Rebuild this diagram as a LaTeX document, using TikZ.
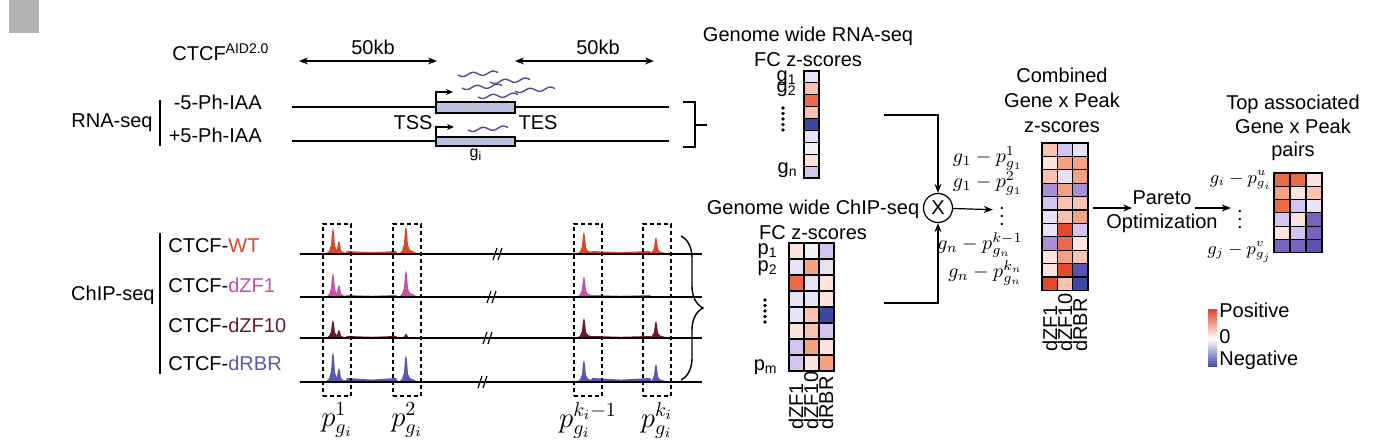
\documentclass[tikz,border=0pt]{standalone}
\usepackage[no-math]{fontspec}
\setmainfont{Liberation Sans}
\usepackage{amsmath,amssymb}
\usepackage{tikz}
\usetikzlibrary{arrows.meta,positioning,calc,decorations.pathreplacing}

\definecolor{wtred}{RGB}{218,72,44}
\definecolor{zfonepink}{RGB}{198,80,170}
\definecolor{zftenred}{RGB}{106,26,50}
\definecolor{rbrblue}{RGB}{90,88,176}
\definecolor{genefill}{RGB}{186,192,224}
\definecolor{waveblue}{RGB}{86,74,150}
\definecolor{panelgrey}{RGB}{178,178,178}
% heatmap palette
\definecolor{hmR}{HTML}{E04A2C}
\definecolor{hmO}{HTML}{EC6A48}
\definecolor{hmS}{HTML}{F4A082}
\definecolor{hmL}{HTML}{F8C2B0}
\definecolor{hmP}{HTML}{FCE4DC}
\definecolor{hmW}{HTML}{F2F0F2}
\definecolor{hmV}{HTML}{E8E2F4}
\definecolor{hmU}{HTML}{D2C4EC}
\definecolor{hmM}{HTML}{A890D8}
\definecolor{hmD}{HTML}{7A62C0}
\definecolor{hmN}{HTML}{5A54B0}
\definecolor{hmB}{HTML}{3C48A4}

\tikzset{
  lbl/.style={inner sep=0pt, font=\fontsize{10}{12}\selectfont},
  headline/.style={lbl, align=center, font=\fontsize{10}{12.5}\selectfont},
  mathlbl/.style={inner sep=0pt, font=\fontsize{14}{16}\selectfont},
  cell/.style={draw=black, line width=0.6pt},
  track/.style={line width=0.7pt},
  peakbox/.style={draw, dash pattern=on 2pt off 1.5pt, line width=0.7pt, inner sep=0pt},
  flow/.style={-{Stealth[length=4.5pt,width=3.5pt]}, line width=0.6pt},
  kbspan/.style={{Stealth[length=4.5pt,width=3.5pt]}-{Stealth[length=4.5pt,width=3.5pt]}, line width=0.6pt},
}

% x, y, cell width, cell height, rows of colour letters
\newcommand{\heatmap}[5]{%
  \foreach \hmrow [count=\hr from 0] in {#5} {
    \foreach \hmc [count=\hk from 0] in \hmrow {
      \filldraw[cell, fill=hm\hmc] ({#1+\hk*#3},{#2+\hr*#4}) rectangle ++(#3,#4);
    }
  }
}
% x, baseline, height, colour
\newcommand{\chippeak}[4]{%
  \fill[#4] ({#1-7},{#2}) -- ({#1-4},{#2-0.12*#3}) -- ({#1-2},{#2-0.35*#3}) -- ({#1-1},{#2-0.85*#3})
    -- ({#1},{#2-#3}) -- ({#1+1},{#2-0.8*#3}) -- ({#1+2},{#2-0.3*#3}) -- ({#1+4},{#2-0.15*#3})
    -- ({#1+8},{#2-0.08*#3}) -- ({#1+12},{#2}) -- cycle;
}
% x1, x2, baseline, height, colour
\newcommand{\chipnoise}[5]{%
  \fill[#5] ({#1},{#3}) -- ({#1+2},{#3-#4}) -- ({0.5*(#1+#2)},{#3-0.6*#4}) -- ({#2-2},{#3-#4}) -- ({#2},{#3}) -- cycle;
}
% x, y of a transcript squiggle
\newcommand{\transcript}[2]{%
  \draw[waveblue, line width=0.7pt] plot[domain=0:40, samples=40, smooth] ({#1+\x},{#2-0.06*\x+1.8*sin(18*\x)});
}

\begin{document}
\begin{tikzpicture}[x=0.5pt, y=-0.5pt]
\useasboundingbox (0,0) rectangle (1394,448);
\fill[panelgrey] (9,0) rectangle (39,33);

% RNA-seq tracks
\node[lbl, anchor=west] (aid) at (172,52) {CTCF\textsuperscript{AID2.0}};
\coordinate (kbaL) at (299,61); \coordinate (kbaR) at (437,61);
\coordinate (kbbL) at (515,61); \coordinate (kbbR) at (654,61);
\draw[kbspan] (kbaL) -- (kbaR);
\draw[kbspan] (kbbL) -- (kbbR);
\node[lbl] (kba) at (373,47) {50kb};
\node[lbl] (kbb) at (598,47) {50kb};

\node[lbl, anchor=east] (minus) at (262,102) {-5-Ph-IAA};
\node[lbl, anchor=east] (plus) at (262,135) {+5-Ph-IAA};
\node[lbl, anchor=east] (rnaseq) at (153,123) {RNA-seq};
\draw[line width=0.7pt] (160,100) -- (160,146);

\draw[track] (292,107) -- (669,107);
\draw[track] (292,141) -- (669,141);
\filldraw[fill=genefill, line width=0.6pt] (436,102) rectangle (515,113);
\filldraw[fill=genefill, line width=0.6pt] (436,137) rectangle (515,146);
\draw[flow, -{Stealth[length=3.5pt,width=3pt]}] (436,102) -- (436,92) -- (453,92);
\draw[flow, -{Stealth[length=3.5pt,width=3pt]}] (436,137) -- (436,127) -- (454,127);
\node[lbl] (tss) at (413,123) {TSS};
\node[lbl] (tes) at (538,123) {TES};
\node[lbl, font=\fontsize{8}{9}\selectfont] (gene) at (476,155) {g\textsubscript{i}};
\transcript{458}{75}
\transcript{490}{82}
\transcript{462}{88}
\transcript{515}{91}
\transcript{478}{97}
\transcript{468}{130}
\draw[line width=0.7pt] (683,102) -- (695,102) -- (695,147) -- (683,147) (695,125) -- (707,125);

% ChIP-seq tracks
\node[lbl, anchor=east] (chipseq) at (155,295) {ChIP-seq};
\draw[line width=0.7pt] (160,233) -- (160,374);
\foreach \ty/\tc/\tname/\ly/\tb/\pka/\pkb/\pkc/\pkd/\pke/\pkn [count=\ti] in
  {254/wtred/WT/246/498/26/13/28/22/17/3,
   297/zfonepink/dZF1/285/492/24/12/27/21/0/2,
   338/zftenred/dZF10/325/488/18/8/4/20/17/2,
   382/rbrblue/dRBR/363/483/30/14/27/22/18/4} {
  \node[lbl, anchor=west] (trk\ti) at (168,\ly) {CTCF-\textcolor{\tc}{\tname}};
  \chipnoise{345}{398}{\ty}{\pkn}{\tc}
  \chipnoise{590}{652}{\ty}{\pkn}{\tc}
  \chippeak{333}{\ty}{\pka}{\tc}
  \chippeak{339}{\ty}{\pkb}{\tc}
  \chippeak{406}{\ty}{\pkc}{\tc}
  \chippeak{584}{\ty}{\pkd}{\tc}
  \chippeak{656}{\ty}{\pke}{\tc}
  \draw[track] (300,\ty) -- (702,\ty);
  \draw[line width=0.6pt] ({\tb-5},{\ty+6}) -- ({\tb-1},{\ty-6}) ({\tb},{\ty+6}) -- ({\tb+4},{\ty-6});
}
\foreach \bx [count=\bi] in {337,407,588,657}
  \node[peakbox, minimum width=14pt, minimum height=86pt] (pk\bi) at (\bx,310) {};
\node[mathlbl, below=3pt of pk1] (pl1) {$p^{1}_{g_i}$};
\node[mathlbl, below=3pt of pk2] (pl2) {$p^{2}_{g_i}$};
\node[mathlbl, below=3pt of pk3] (pl3) {$p^{k_i-1}_{g_i}$};
\node[mathlbl, below=3pt of pk4] (pl4) {$p^{k_i}_{g_i}$};
\draw[decorate, decoration={brace, amplitude=11pt}, line width=0.7pt] (681,236) -- (681,380);

% genome wide RNA-seq z-scores
\node[headline] (rnatitle) at (808,47) {Genome wide RNA-seq\\FC z-scores};
\heatmap{804}{71}{15}{11.9}{{V},{L},{O},{L},{B},{V},{W},{P},{U}}
\node[lbl, anchor=east] (g1) at (797,78) {g\textsubscript{1}};
\node[lbl, anchor=east] (g2) at (797,89) {g\textsubscript{2}};
\node[lbl, anchor=east] (gn) at (798,170) {g\textsubscript{n}};
\foreach \dy in {108,113.5,...,130} \fill (783,\dy) circle (0.9pt);

% genome wide ChIP-seq z-scores
\node[headline] (chiptitle) at (813,219.5) {Genome wide ChIP-seq\\FC z-scores};
\heatmap{789}{243}{15}{16}{{P,W,U},{V,S,V},{O,V,P},{V,V,P},{V,L,B},{P,L,U},{U,S,P},{U,P,S}}
\node[lbl, anchor=east] (p1) at (778,251) {p\textsubscript{1}};
\node[lbl, anchor=east] (p2) at (778,268) {p\textsubscript{2}};
\node[lbl, anchor=east] (pm) at (778,367) {p\textsubscript{m}};
\foreach \dy in {300,305.5,...,323} \fill (765,\dy) circle (0.9pt);
\foreach \cx/\cn in {796/dZF1,811/dZF10,826/dRBR}
  \node[lbl, rotate=90, anchor=west] at (\cx,430) {\cn};

% combine
\node[draw, circle, minimum size=14.5pt, inner sep=0pt, line width=0.6pt] (mult) at (938,208) {X};
\coordinate (rnaout) at (884,115);
\coordinate (chipout) at (884,303);
\draw[flow] (rnaout) -| (mult);
\draw[flow] (chipout) -| (mult);
\node[lbl] (combdots) at (1002,210) {$\vdots$};
\draw[flow, shorten >=3pt] (mult) -- (combdots);

\node[headline] (combtitle) at (1062,100) {Combined\\Gene x Peak\\z-scores};
\heatmap{1042}{143}{15.3}{13.4}{{L,U,V},{P,S,S},{L,V,S},{M,S,M},{U,L,L},{V,L,S},{V,R,U},{M,O,P},{P,S,L},{P,R,N},{R,L,B}}
\node[lbl, anchor=east] (c1) at (1023,158) {$g_1 - p^{1}_{g_1}$};
\node[lbl, anchor=east] (c2) at (1023,183) {$g_1 - p^{2}_{g_1}$};
\node[lbl, anchor=east] (c3) at (1023,245) {$g_n - p^{k-1}_{g_n}$};
\node[lbl, anchor=east] (c4) at (1023,273) {$g_n - p^{k_n}_{g_n}$};
\foreach \cx/\cn in {1050/dZF1,1065/dZF10,1080/dRBR}
  \node[lbl, rotate=90, anchor=west] at (\cx,352) {\cn};

% pareto
\node[lbl] (pareto) at (1162,198) {Pareto};
\node[lbl] (optim) at (1162,223) {Optimization};
\coordinate (combout) at (1093,208);
\draw[flow] (combout) -- (combout -| pareto.west);
\node[lbl] (topdots) at (1240,213) {$\vdots$};
\draw[flow, shorten <=1.5pt, shorten >=3pt] (combout -| pareto.east) -- (combout -| topdots.west);

\node[headline, font=\fontsize{10}{11.75}\selectfont] (toptitle) at (1293,128) {Top associated\\Gene x Peak\\pairs};
\heatmap{1274}{173}{16}{13.3}{{O,O,P},{S,P,L},{O,U,V},{U,P,D},{P,U,D},{D,D,N}}
\node[lbl, anchor=east, font=\fontsize{9}{11}\selectfont] (t1) at (1272,180) {$g_i - p^{u}_{g_i}$};
\node[lbl, anchor=east, font=\fontsize{9}{11}\selectfont] (t2) at (1272,252) {$g_j - p^{v}_{g_j}$};

% colour key
\shade[top color=hmR, bottom color=hmB, middle color=white] (1208,310) rectangle (1217,367);
\node[lbl, anchor=west] (kpos) at (1219,310) {Positive};
\node[lbl, anchor=west] (kzero) at (1219,337) {0};
\node[lbl, anchor=west] (kneg) at (1219,360) {Negative};
\end{tikzpicture}
\end{document}
